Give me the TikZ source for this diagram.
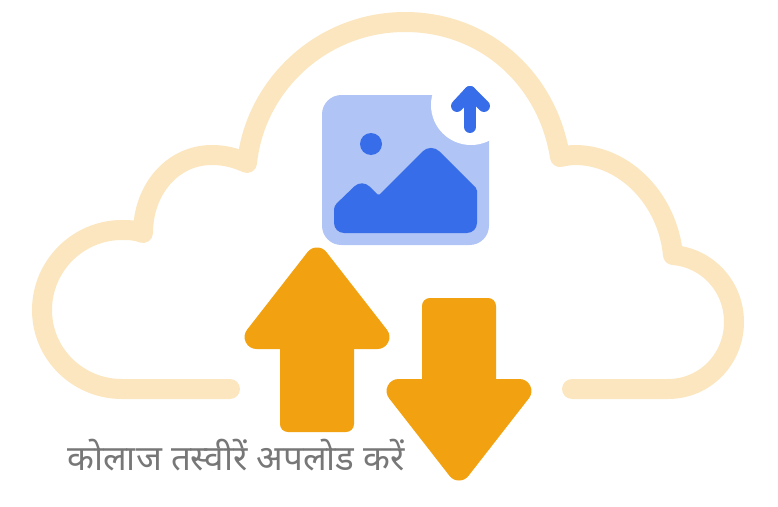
\documentclass[tikz,border=0pt]{standalone}
\usepackage{fontspec}
\usepackage{xcolor}
\newfontfamily\hindifont[Script=Devanagari]{Noto Sans}
\definecolor{cloudcream}{HTML}{FBE6BF}
\definecolor{arroworange}{HTML}{F2A211}
\definecolor{picblue}{HTML}{376DE8}
\definecolor{piclight}{HTML}{B0C5F5}
\definecolor{labelgray}{HTML}{777777}
\begin{document}
\begin{tikzpicture}[
  x=0.02cm, y=-0.02cm,
  cloudline/.style={draw=cloudcream, line width=0.4cm, line cap=round, line join=round},
  arrowhead/.style={fill=arroworange, draw=arroworange, line width=0.48cm, line join=round},
  arrowshaft/.style={fill=arroworange, rounded corners=4.5pt},
  lab/.style={font=\hindifont\fontsize{19.9}{22}\selectfont, text=labelgray, inner sep=0pt}
]
\useasboundingbox (0,0) rectangle (778,507);
% cloud outline
\draw[cloudline] (230,389) -- (122,389)
  .. controls (78,389) and (42,354) .. (42,310)
  .. controls (42,266) and (78,230) .. (122,230)
  .. controls (133,230) and (138,231) .. (143,233)
  .. controls (143,190) and (172,155) .. (212,155)
  .. controls (225,155) and (236,158) .. (247,163)
  .. controls (255,85) and (322,22) .. (405,22)
  .. controls (486,22) and (548,80) .. (560,157)
  .. controls (565,156) and (570,155) .. (575,155)
  .. controls (625,155) and (668,200) .. (673,255)
  .. controls (708,258) and (734,287) .. (734,322)
  .. controls (734,359) and (705,389) .. (668,389)
  -- (572,389);
% picture tile
\fill[piclight, rounded corners=11pt] (322,95) rectangle (489,245);
\fill[white] (471,105) circle (40);
\fill[picblue] (405,233) [rounded corners=5.7pt] -- (334,233) [rounded corners=2pt] -- (334,206)
  [rounded corners=6pt] -- (362,179) [rounded corners=1pt] -- (378.5,195.5) [rounded corners=6.8pt] -- (431,143)
  [rounded corners=1pt] -- (477,189) [rounded corners=5.7pt] -- (477,233) -- cycle;
\fill[picblue] (371,144) circle (11);
% small arrow
\draw[picblue, line width=6.8pt, line cap=round, line join=round] (457,106) -- (470,92) -- (484,106);
\draw[picblue, line width=6.8pt, line cap=round] (470,92) -- (470,127);
% big arrows
\fill[arrowshaft] (280,340) rectangle (354,432);
\draw[arrowhead] (317,259.5) -- (377.4,337) -- (256.6,337) -- cycle;
\fill[arrowshaft] (422,298) rectangle (496,395);
\draw[arrowhead] (459,468.5) -- (519.4,391) -- (398.6,391) -- cycle;
\node[lab, anchor=base west] (uploadlabel) at (67,470) {कोलाज तस्वीरें अपलोड करें};
\end{tikzpicture}
\end{document}
